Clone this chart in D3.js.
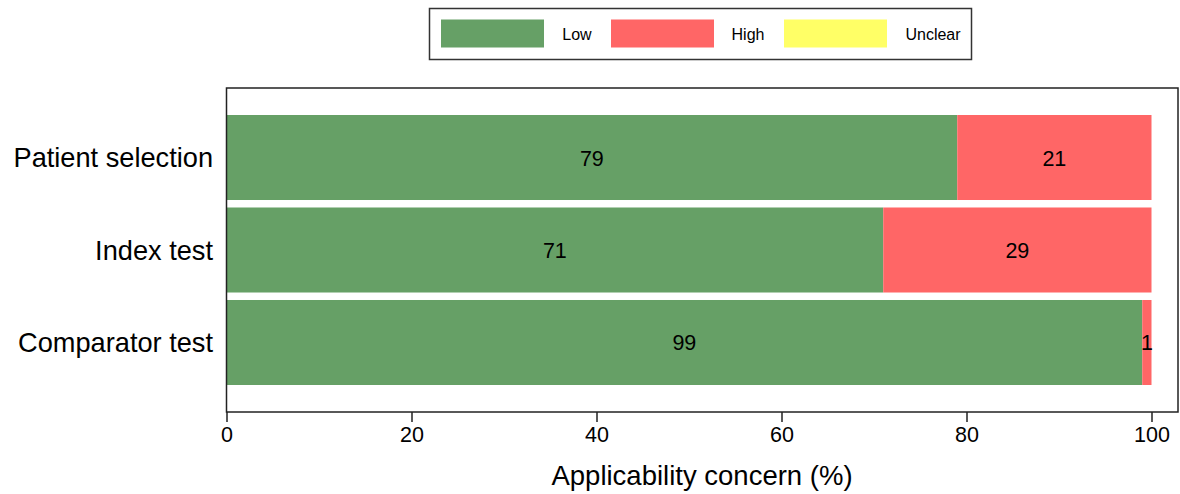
<!DOCTYPE html>
<html><head><meta charset="utf-8">
<script src="https://cdn.jsdelivr.net/npm/d3@7"></script>
<style>body{margin:0;background:#fff}svg{display:block}text{font-family:Arial,"Liberation Sans",sans-serif}</style>
</head><body><svg id="c" width="1180" height="494"></svg>
<script>
const categories = ["Patient selection", "Index test", "Comparator test"];
const lowValues = [79, 71, 99];
const highValues = [21, 29, 1];
const unclearValues = [0, 0, 0];
const seriesNames = ["Low", "High", "Unclear"];
const xTicks = [0, 20, 40, 60, 80, 100];
const colors = ["#66a066", "#ff6666", "#ffff66"];

const svg = d3.select("#c");
const frame = {l: 226.5, r: 1178, t: 88, b: 412};
const x = d3.scaleLinear().domain([0, 100]).range([226.5, 1151.5]);
const y = d3.scaleBand().domain(categories).range([111.3, 388.7]).paddingInner(0.081).paddingOuter(0.04);

const rows = categories.map((c, i) => ({cat: c, vals: [lowValues[i], highValues[i], unclearValues[i]]}));
const stack = d3.stack().keys([0, 1, 2]).value((d, k) => d.vals[k]);
const layers = stack(rows);

layers.forEach((layer, k) => {
  svg.append("g").selectAll("rect").data(layer).join("rect")
    .attr("x", d => x(d[0])).attr("width", d => x(d[1]) - x(d[0]))
    .attr("y", d => y(d.data.cat)).attr("height", y.bandwidth())
    .attr("fill", colors[k]);
  svg.append("g").selectAll("text").data(layer.filter(d => d[1] - d[0] > 0)).join("text")
    .attr("x", d => x((d[0] + d[1]) / 2)).attr("y", d => y(d.data.cat) + y.bandwidth() / 2 + 1)
    .attr("text-anchor", "middle").attr("dominant-baseline", "central")
    .attr("font-size", 21.5).attr("fill", "#000")
    .text(d => d[1] - d[0]);
});

// frame
svg.append("rect").attr("x", frame.l).attr("y", frame.t).attr("width", frame.r - frame.l).attr("height", frame.b - frame.t)
  .attr("fill", "none").attr("stroke", "#222").attr("stroke-width", 1.5);

// x axis
const ax = svg.append("g").attr("transform", `translate(0,${frame.b})`)
  .call(d3.axisBottom(x).tickValues(xTicks).tickSize(10).tickPadding(5).tickFormat(d3.format("d")));
ax.select(".domain").remove();
ax.selectAll("line").attr("stroke", "#222").attr("stroke-width", 1.5);
ax.selectAll("text").attr("font-size", 21.5).attr("fill", "#000").style("font-family", "Arial, 'Liberation Sans', sans-serif");

svg.append("text").attr("x", 702).attr("y", 485).attr("text-anchor", "middle")
  .attr("font-size", 27.5).attr("fill", "#000").text("Applicability concern (%)");

// y labels
svg.append("g").selectAll("text").data(categories).join("text")
  .attr("x", 213).attr("y", d => y(d) + y.bandwidth() / 2).attr("text-anchor", "end").attr("dominant-baseline", "central")
  .attr("font-size", 27.2).attr("fill", "#000").text(d => d);

// legend
const lg = svg.append("g");
lg.append("rect").attr("x", 429.5).attr("y", 8.5).attr("width", 542).attr("height", 51)
  .attr("fill", "#fff").attr("stroke", "#333").attr("stroke-width", 1.5);
const legendX = [441, 611, 784];
const labelX = [577, 748, 933];
seriesNames.forEach((n, i) => {
  lg.append("rect").attr("x", legendX[i]).attr("y", 19.5).attr("width", 103).attr("height", 28).attr("fill", colors[i]);
  lg.append("text").attr("x", labelX[i]).attr("y", 34).attr("text-anchor", "middle").attr("dominant-baseline", "central")
    .attr("font-size", 16).attr("fill", "#000").text(n);
});
</script></body></html>
